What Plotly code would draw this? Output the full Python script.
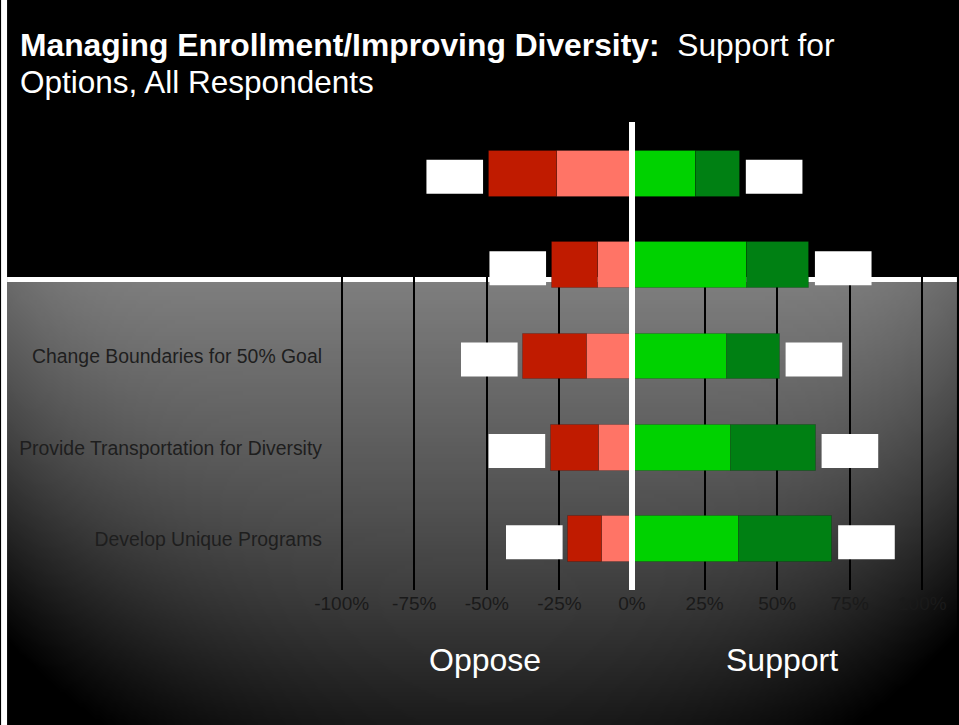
import zlib, struct, base64, math
import plotly.graph_objects as go

# ---------------- data ----------------
row_ids = [0, 1, 2, 3, 4]
row_labels = ["", "", "Change Boundaries for 50% Goal",
              "Provide Transportation for Diversity", "Develop Unique Programs"]
oppose_inner = [25.8, 11.6, 15.6, 11.4, 10.5]     # light red (closest to 0)
oppose_outer = [23.5, 16.0, 21.8, 16.5, 11.4]     # dark red
support_inner = [22.0, 39.7, 32.7, 34.0, 37.0]    # bright green
support_outer = [15.2, 21.3, 18.2, 29.3, 32.0]    # dark green
tick_values = [-100, -75, -50, -25, 0, 25, 50, 75, 100]
tick_labels = ["-100%", "-75%", "-50%", "-25%", "0%", "25%", "50%", "75%", "100%"]

W, H = 959, 725
ML, MR, MT, MB = 330, 19, 122, 135
PW, PH = W - ML - MR, H - MT - MB


def px(xp):
    return (xp - ML) / PW


def py(yp):
    return (H - MB - yp) / PH


# ---------------- background gradient image ----------------
def bright(x, y):
    v = max(0.0, 125 - 0.2 * (y - 290))
    r = math.hypot(x - 480, y - 200) / 560
    if r < 0.5:
        f = 1.0
    else:
        f = max(0.0, 1 - ((r - 0.5) / 0.66) ** 3)
    return int(max(0, min(255, v * f)))


gx0, gx1, gy0, gy1 = 6, 959, 282, 725
IW, IH = 240, 112
rows = []
for j in range(IH):
    yy = gy0 + (j + 0.5) * (gy1 - gy0) / IH
    rows.append(bytes([bright(gx0 + (i + 0.5) * (gx1 - gx0) / IW, yy) for i in range(IW)]))
raw = b"".join(b"\x00" + r for r in rows)


def chunk(t, d):
    return struct.pack(">I", len(d)) + t + d + struct.pack(">I", zlib.crc32(t + d) & 0xffffffff)


png = (b"\x89PNG\r\n\x1a\n" + chunk(b"IHDR", struct.pack(">IIBBBBB", IW, IH, 8, 0, 0, 0, 0))
       + chunk(b"IDAT", zlib.compress(raw, 9)) + chunk(b"IEND", b""))
bg_uri = "data:image/png;base64," + base64.b64encode(png).decode()

# ---------------- figure ----------------
FONT = "Liberation Sans, Arial, Helvetica, sans-serif"
fig = go.Figure()
bar_w = 0.5
line = dict(width=1, color="rgba(0,0,0,0.18)")
fig.add_trace(go.Bar(y=row_ids, x=[-v for v in oppose_inner], orientation="h", width=bar_w,
                     marker=dict(color="#FF7466", line=line), name="Oppose somewhat"))
fig.add_trace(go.Bar(y=row_ids, x=[-v for v in oppose_outer], orientation="h", width=bar_w,
                     marker=dict(color="#C01B00", line=line), name="Oppose strongly"))
fig.add_trace(go.Bar(y=row_ids, x=support_inner, orientation="h", width=bar_w,
                     marker=dict(color="#00D200", line=line), name="Support somewhat"))
fig.add_trace(go.Bar(y=row_ids, x=support_outer, orientation="h", width=bar_w,
                     marker=dict(color="#008013", line=line), name="Support strongly"))

shapes = []
# white left strip
shapes.append(dict(type="rect", xref="paper", yref="paper", x0=px(0), x1=px(6), y0=py(H), y1=py(0),
                   fillcolor="white", line=dict(width=0), layer="below"))
# white horizontal separator
shapes.append(dict(type="rect", xref="paper", yref="paper", x0=px(6), x1=px(W), y0=py(282), y1=py(277),
                   fillcolor="white", line=dict(width=0), layer="below"))
# white label boxes next to bars
gap, bw = 2.0, 19.5
for i in row_ids:
    left = -(oppose_inner[i] + oppose_outer[i]) - gap
    right = support_inner[i] + support_outer[i] + gap
    for x0, x1 in ((left - bw, left), (right, right + bw)):
        shapes.append(dict(type="rect", xref="x", yref="y", x0=x0, x1=x1, y0=i - 0.153, y1=i + 0.219,
                           fillcolor="white", line=dict(width=0), layer="above"))
# white zero line
shapes.append(dict(type="line", xref="x", yref="paper", x0=0, x1=0, y0=0, y1=1,
                   line=dict(color="white", width=6), layer="above"))

annotations = [
    dict(xref="paper", yref="paper", x=px(17), y=py(45), xanchor="left", yanchor="middle",
         text="<b>Managing Enrollment/Improving Diversity:</b>&nbsp; Support for", showarrow=False,
         font=dict(family=FONT, size=31.8, color="white")),
    dict(xref="paper", yref="paper", x=px(17), y=py(82), xanchor="left", yanchor="middle",
         text="Options, All Respondents", showarrow=False,
         font=dict(family=FONT, size=31.5, color="white")),
    dict(xref="x", yref="paper", x=-50.5, y=py(660), xanchor="center", yanchor="middle",
         text="Oppose", showarrow=False, font=dict(family=FONT, size=32, color="white")),
    dict(xref="x", yref="paper", x=51.5, y=py(660), xanchor="center", yanchor="middle",
         text="Support", showarrow=False, font=dict(family=FONT, size=32, color="white")),
]

fig.update_layout(
    width=W, height=H, margin=dict(l=ML, r=MR, t=MT, b=MB),
    paper_bgcolor="black", plot_bgcolor="rgba(0,0,0,0)",
    barmode="relative", bargap=0, showlegend=False,
    font=dict(family=FONT),
    shapes=shapes, annotations=annotations,
    images=[dict(source=bg_uri, xref="paper", yref="paper", x=px(gx0), y=py(gy0),
                 sizex=px(gx1) - px(gx0), sizey=py(gy0) - py(gy1), sizing="stretch",
                 xanchor="left", yanchor="top", layer="below")],
    xaxis=dict(range=[(ML - 633) / 2.913, (W - MR - 633) / 2.913], tickvals=tick_values,
               ticktext=tick_labels, showgrid=True, gridcolor="#000000", gridwidth=1.5,
               zeroline=False, showline=False, ticks="",
               tickfont=dict(family=FONT, size=19, color="#1a1a1a")),
    yaxis=dict(range=[4.555, -0.567], tickvals=row_ids, ticktext=row_labels, showgrid=False,
               zeroline=False, showline=False, ticks="", ticklabelstandoff=7,
               tickfont=dict(family=FONT, size=19.4, color="#1e1e1e")),
)

fig.write_html("out.html", config={"displayModeBar": False},
               post_script="document.body.style.margin='0';document.body.style.overflow='hidden';")
